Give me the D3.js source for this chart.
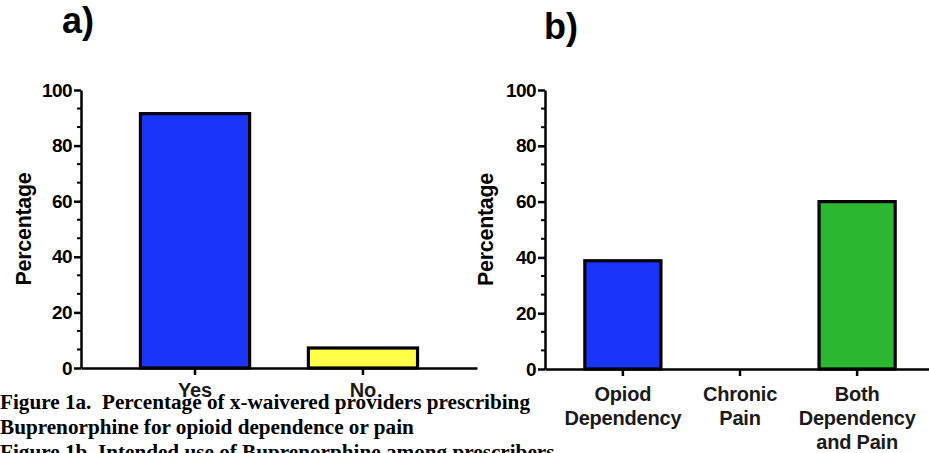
<!DOCTYPE html>
<html>
<head>
<meta charset="utf-8">
<script src="https://cdn.jsdelivr.net/npm/d3@7"></script>
<style>
  body { margin: 0; background: #fff; }
  svg { display: block; }
  .tick text { font-family: "Liberation Sans", Arial, sans-serif; font-weight: bold; }
</style>
</head>
<body>
<div id="chart"></div>
<script>
// panel a data
const catsA   = ["Yes", "No"];
const valsA   = [91.5, 7.2];
const colorsA = ["#1a34fa", "#ffff48"];

// panel b data
const catsB   = [["Opiod", "Dependency"], ["Chronic", "Pain"], ["Both", "Dependency", "and Pain"]];
const valsB   = [38.8, 0, 60];
const colorsB = ["#1a34fa", "#ffffff", "#2bb830"];

const yTicks = [0, 20, 40, 60, 80, 100];

const captionLines = [
  "Figure 1a.  Percentage of x-waivered providers prescribing",
  "Buprenorphine for opioid dependence or pain",
  "Figure 1b. Intended use of Buprenorphine among prescribers"
];

const width  = 929;
const height = 453;

const svg = d3.select("#chart")
  .append("svg")
  .attr("width", width)
  .attr("height", height);

const sans = "'Liberation Sans', Arial, sans-serif";

function drawPanel(opts) {
  const g = svg.append("g");

  const x = d3.scaleBand()
    .domain(opts.cats.map((d, i) => i))
    .range([opts.x0, opts.x1])
    .paddingInner(0.35)
    .paddingOuter(opts.pOuter);

  const y = d3.scaleLinear()
    .domain([0, 100])
    .range([opts.y0, 90]);

  // bars
  g.selectAll("rect.bar")
    .data(opts.vals)
    .enter()
    .append("rect")
    .attr("class", "bar")
    .attr("x", (d, i) => x(i))
    .attr("width", x.bandwidth())
    .attr("y", d => y(d))
    .attr("height", d => y(0) - y(d))
    .attr("fill", (d, i) => opts.colors[i])
    .attr("stroke", d => d > 0 ? "#000" : "none")
    .attr("stroke-width", 3.2);

  // minor ticks
  const minor = d3.range(0, 100.01, 20 / 3).filter((d, i) => i % 3 !== 0);
  g.selectAll("line.minor")
    .data(minor)
    .enter()
    .append("line")
    .attr("x1", opts.x0 - 4)
    .attr("x2", opts.x0)
    .attr("y1", d => y(d))
    .attr("y2", d => y(d))
    .attr("stroke", "#000")
    .attr("stroke-width", 2);

  // y axis
  const yAxis = g.append("g")
    .attr("transform", `translate(${opts.x0},0)`)
    .call(d3.axisLeft(y).tickValues(yTicks).tickSize(7).tickPadding(2).tickSizeOuter(0));
  yAxis.select(".domain").attr("stroke-width", 2.5);
  yAxis.selectAll(".tick line").attr("stroke-width", 2.5);
  yAxis.selectAll(".tick text")
    .attr("font-size", 19)
    .attr("letter-spacing", -0.6)
    .attr("fill", "#000");

  // x axis
  const xAxis = g.append("g")
    .attr("transform", `translate(0,${opts.y0})`)
    .call(d3.axisBottom(x).tickSize(7).tickSizeOuter(0).tickFormat(""));
  xAxis.select(".domain").attr("stroke-width", 2.5);
  xAxis.selectAll(".tick line").attr("stroke-width", 2.5);

  // category labels
  opts.cats.forEach((lines, i) => {
    const t = g.append("text")
      .attr("x", x(i) + x.bandwidth() / 2)
      .attr("y", opts.labelY)
      .attr("text-anchor", "middle")
      .attr("font-family", sans)
      .attr("font-weight", "bold")
      .attr("font-size", 20)
      .attr("letter-spacing", -0.2)
      .attr("fill", "#1a1a1a");
    [].concat(lines).forEach((s, k) => {
      t.append("tspan")
        .attr("x", x(i) + x.bandwidth() / 2)
        .attr("dy", k === 0 ? 0 : 24)
        .text(s);
    });
  });

  // y title
  g.append("text")
    .attr("transform", `translate(${opts.titleX},${(y(0) + y(100)) / 2}) rotate(-90)`)
    .attr("text-anchor", "middle")
    .attr("font-family", sans)
    .attr("font-weight", "bold")
    .attr("font-size", 21.5)
    .attr("letter-spacing", -0.3)
    .text("Percentage");

  // panel letter
  g.append("text")
    .attr("x", opts.letterX)
    .attr("y", opts.letterY)
    .attr("font-family", sans)
    .attr("font-weight", "bold")
    .attr("font-size", 36)
    .text(opts.letter);
}

drawPanel({
  cats: catsA, vals: valsA, colors: colorsA,
  x0: 81, x1: 477, y0: 368, pOuter: 0.354,
  labelY: 397, titleX: 31, letter: "a)", letterX: 62, letterY: 33
});

drawPanel({
  cats: catsB, vals: valsB, colors: colorsB,
  x0: 545, x1: 935, y0: 369, pOuter: 0.34,
  labelY: 401, titleX: 493, letter: "b)", letterX: 544, letterY: 39
});

// caption
svg.append("g")
  .selectAll("text")
  .data(captionLines)
  .enter()
  .append("text")
  .attr("x", 0)
  .attr("y", (d, i) => 409 + i * 25)
  .attr("xml:space", "preserve")
  .style("white-space", "pre")
  .attr("font-family", "'Liberation Serif', 'Times New Roman', serif")
  .attr("font-weight", "bold")
  .attr("font-size", 21.2)
  .attr("fill", "#000")
  .text(d => d);
</script>
</body>
</html>
